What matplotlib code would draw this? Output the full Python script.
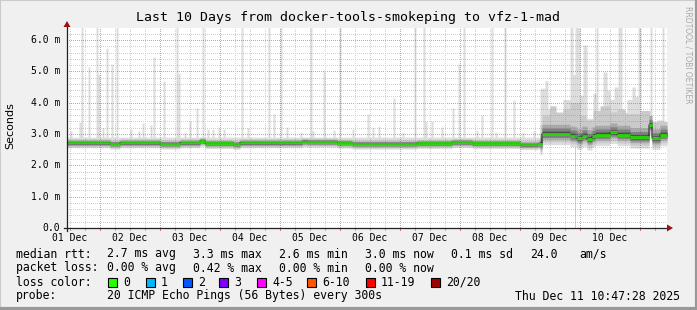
import numpy as np
import matplotlib.pyplot as plt
from matplotlib.patches import Rectangle, Polygon
from matplotlib.lines import Line2D

# smokeping graph: last 10 days, ends Thu Dec 11 10:47:28 2025
# x is hours after window start (Dec 01 10:47:28), one rrd step = 1440 s
span_h = 240
step_h = 0.4
first_noon_h = 1.2089      # Dec 01 12:00
first_midnight_h = 13.2089 # Dec 02 00:00
day_labels = ['01 Dec', '02 Dec', '03 Dec', '04 Dec', '05 Dec',
              '06 Dec', '07 Dec', '08 Dec', '09 Dec', '10 Dec']
y_top = 6.383
y_ticks = [0, 1, 2, 3, 4, 5, 6]
y_labels = ['0.0', '1.0 m', '2.0 m', '3.0 m', '4.0 m', '5.0 m', '6.0 m']

# median rtt [ms], held from each start hour
median_h = [0, 17.2, 21.2, 37.2, 45.2, 53.2, 55.2, 66.4, 69.2, 94, 96, 108, 114, 140, 154, 162,
            181.2, 188.4, 190, 201.2, 203.2, 204, 206, 208, 210, 211.2, 217.2, 220, 225.2,
            232.8, 234, 237.2]
median_ms = [2.73, 2.69, 2.73, 2.69, 2.73, 2.78, 2.71, 2.68, 2.73, 2.76, 2.75, 2.72, 2.69, 2.71, 2.74, 2.71,
             2.67, 2.69, 3.01, 2.95, 2.93, 2.86, 2.95, 2.84, 2.93, 2.98, 3.05, 2.98, 2.90,
             3.29, 2.86, 2.98]

# lost pings per step (all other steps 0)
loss_h = [203.2]
loss_n = [1]

# upper edge of the smoke (max ping), held from each start hour
max_h = [0, 189.2, 191.2, 192.4, 194.0, 196.0, 198.4, 201.2, 202.4, 203.2, 205.2, 206.4, 208.0,
         210.4, 211.6, 212.4, 214.4, 216.0, 217.2, 218.8, 220.4, 222.0, 224.0, 226.0, 227.2,
         228.4, 229.6, 232.0, 233.2, 234.0, 236.0, 238.0, 238.8]
max_ms = [2.9, 4.46, 4.7, 3.8, 3.7, 3.6, 4.1, 6.4, 4.9, 6.4, 4.24, 5.84, 3.5,
          4.3, 6.4, 3.7, 4.98, 4.4, 4.1, 4.5, 6.4, 3.7, 4.1, 4.5, 4.2,
          6.4, 3.7, 3.5, 6.4, 3.3, 3.45, 6.4, 3.3]

# single-step max ping spikes (hour, ms)
spike_h = [1.2, 4.8, 5.6, 8.4, 11.6, 12.4, 14.0, 15.6, 17.6, 19.6,
           25.2, 28.4, 30.0, 33.2, 34.4, 38.4, 43.6, 44.4, 46.8, 48.8,
           51.6, 54.0, 56.0, 58.0, 60.4, 62.4, 69.6, 72.0, 80.4, 82.4,
           85.2, 87.6, 93.2, 97.2, 98.0, 102.4, 106.4, 108.8, 114.0, 120.0,
           122.0, 124.4, 130.4, 134.0, 138.8, 142.4, 143.2, 145.6, 149.6, 154.0,
           156.4, 158.4, 163.6, 165.6, 169.6, 171.2, 174.8, 178.4, 182.0, 186.4]
spike_ms = [3.10, 3.38, 6.4, 5.14, 6.4, 4.90, 3.20, 5.74, 5.23, 6.4,
            3.15, 3.10, 3.35, 3.30, 5.46, 4.69, 6.4, 4.94, 3.05, 3.40,
            3.83, 6.4, 3.15, 3.15, 3.20, 3.15, 6.4, 3.20, 6.4, 3.64,
            6.4, 3.22, 3.05, 6.4, 3.10, 5.04, 3.12, 6.4, 3.15, 3.64,
            3.20, 3.25, 4.15, 3.05, 6.4, 6.4, 3.40, 3.40, 3.22, 3.83,
            5.23, 6.4, 3.10, 3.60, 6.4, 3.05, 6.4, 4.09, 3.05, 3.10]

# smoke layers around the median, before / after the jump on Dec 09
jump_h = 189.2
smoke_shades = ['#dddddd', '#cacaca', '#a8a8a8', '#808080', '#4a4a4a']
below_pre = [0.17, 0.13, 0.10, 0.07, 0.04]
above_pre = [None, 0.12, 0.08, 0.06, 0.04]
below_post = [0.35, 0.26, 0.18, 0.12, 0.06]
above_post = [None, None, 0.30, 0.18, 0.08]
p90_post_h = [189.2, 190, 193.2, 195.6, 198.4, 201.2, 205.2, 207.6, 210.4, 213.2, 217.2, 220,
              223.2, 229.2, 233.2]
p90_post_ms = [3.3, 3.6, 3.9, 3.7, 3.8, 4.0, 3.6, 3.45, 3.75, 3.9, 3.7, 3.8,
               3.65, 3.75, 3.4]

loss_colors = {0: '#26ff00', 1: '#00b8ff', 2: '#0059ff', 3: '#7e00ff',
               5: '#ff00ff', 10: '#ff5500', 19: '#ff0000', 20: '#a10000'}
loss_names = ['0', '1', '2', '3', '4-5', '6-10', '11-19', '20/20']
loss_box_x = [108, 146, 183, 219, 257, 307, 366, 431]

legend_rows = [
    ('median rtt:', ['2.7 ms avg', '3.3 ms max', '2.6 ms min', '3.0 ms now', '0.1 ms sd', '24.0', 'am/s']),
    ('packet loss:', ['0.00 % avg', '0.42 % max', '0.00 % min', '0.00 % now']),
]
legend_cols_x = [107, 193, 279, 365, 451, 530, 579]
probe_text = '20 ICMP Echo Pings (56 Bytes) every 300s'
stamp_text = 'Thu Dec 11 10:47:28 2025'
title = 'Last 10 Days from docker-tools-smokeping to vfz-1-mad'


def held(knots, vals, t):
    i = np.searchsorted(knots, t, side='right') - 1
    return np.asarray(vals, dtype=float)[np.clip(i, 0, len(vals) - 1)]


n = int(round(span_h / step_h))
t = np.arange(n) * step_h
edges = np.arange(n + 1) * step_h
med = held(median_h, median_ms, t + 1e-6)
hi = held(max_h, max_ms, t + 1e-6)
for h, v in zip(spike_h, spike_ms):
    i = int(round(h / step_h))
    hi[i:i + 2] = np.maximum(hi[i:i + 2], v)
loss = np.zeros(n, dtype=int)
for h, v in zip(loss_h, loss_n):
    loss[int(round(h / step_h))] = v
post = t >= jump_h - 1e-6
p90 = held(p90_post_h, p90_post_ms, t + 1e-6)


def ext(a):
    return np.append(a, a[-1])


W, H = 697, 310
X0, Y0 = 67, 228    # plot origin in image pixels
PW, PH = 600, 200   # plot area in pixels
mono = 'DejaVu Sans Mono'


def fx(x):
    return x / W


def fy(y):
    return 1 - y / H


fig = plt.figure(figsize=(W / 100, H / 100), dpi=100, facecolor='#f0f0f0')
rect = [fx(X0), fy(Y0), PW / W, PH / H]
ax = fig.add_axes(rect, zorder=0)            # canvas + smoke
ax2 = fig.add_axes(rect, zorder=2)           # median line, above the grid
ax.set_facecolor('white')
ax2.set_facecolor('none')
for a in (ax, ax2):
    a.set_xlim(0, span_h)
    a.set_ylim(0, y_top)
    for s in a.spines.values():
        s.set_visible(False)
    a.set_xticks([])
    a.set_yticks([])

# loss background
for i in np.nonzero(loss)[0]:
    col = [c for k, c in loss_colors.items() if loss[i] <= k][0]
    ax.axvspan(t[i], t[i] + step_h, ymax=med[i] / y_top, color=col, alpha=0.4, lw=0, zorder=0.5)

# smoke
for k, shade in enumerate(smoke_shades):
    lo = med - np.where(post, below_post[k], below_pre[k])
    if k == 0:
        up = hi
    elif k == 1:
        up = np.where(post, p90, med + above_pre[k])
    else:
        up = med + np.where(post, above_post[k], above_pre[k])
    ax.fill_between(edges, ext(lo), ext(up), step='post', color=shade, lw=0, zorder=1 + k * 0.01)

# grid: 1px dotted lines as a pixel exact overlay, rrdtool style
minor_y = [v for v in np.arange(0.2, y_top, 0.2) if abs(v - round(v)) > 0.05]
major_y = y_ticks[1:]
minor_x = np.arange(first_noon_h, span_h, 6.0)
major_x = np.arange(first_midnight_h, span_h, 24.0)
minor_x = [v for v in minor_x if np.min(np.abs(major_x - v)) > 0.5]
grid = np.zeros((PH, PW, 4))
minor_rgba = (0.5, 0.5, 0.5, 0.36)
major_rgba = (0.95, 0.15, 0.15, 0.5)
for vals, rgba in ((minor_y, minor_rgba), (major_y, major_rgba)):
    for v in vals:
        r = int(round((y_top - v) / y_top * PH))
        if 0 <= r < PH:
            grid[r, 0::2] = rgba
for vals, rgba in ((minor_x, minor_rgba), (major_x, major_rgba)):
    for v in vals:
        c = int(round(v / span_h * PW))
        if 0 <= c < PW:
            grid[1::2, c] = rgba
fig.figimage(grid, xo=X0, yo=H - Y0, origin='upper', zorder=1)

# median: dark step line, then loss coloured segments
ax2.step(edges, ext(med), where='post', color='#202020', lw=0.72, zorder=3)
seg_cols = [[c for k, c in loss_colors.items() if v <= k][0] for v in loss]
ax2.hlines(med, edges[:-1], edges[1:], colors=seg_cols, lw=2.2, zorder=3.1, capstyle='butt')

# tick labels
for i, lab in enumerate(day_labels):
    ax2.text(first_noon_h + 24 * i, -10 / 200, lab, transform=ax2.get_xaxis_transform(),
             ha='center', va='center', family=mono, size=7)
for v, lab in zip(y_ticks, y_labels):
    ax2.text(-7 / 600, v, lab, transform=ax2.get_yaxis_transform(),
             ha='right', va='center', family=mono, size=7)

# small axis ticks
tick_y = -2 / 200 * y_top
ax2.vlines(minor_x, tick_y, 0, colors='#b0b0b0', lw=0.72, clip_on=False, zorder=4, antialiased=False)
ax2.vlines(major_x, tick_y, 0, colors='#e07070', lw=0.72, clip_on=False, zorder=4, antialiased=False)

# axes and arrows
fig.add_artist(Line2D([fx(64), fx(668)], [fy(228), fy(228)], color='#202020', lw=0.9, zorder=5))
fig.add_artist(Line2D([fx(67), fx(67)], [fy(231), fy(24)], color='#202020', lw=0.9, zorder=5))
fig.add_artist(Polygon([(fx(667), fy(224.5)), (fx(673), fy(228)), (fx(667), fy(231.5))],
                       closed=True, color='#a01010', lw=0, zorder=5))
fig.add_artist(Polygon([(fx(63.5), fy(27)), (fx(67), fy(21)), (fx(70.5), fy(27))],
                       closed=True, color='#a01010', lw=0, zorder=5))

# texts
fig.text(fx(348.5), fy(18), title, ha='center', va='center', family=mono, size=9.5)
fig.text(fx(10), fy(126), 'Seconds', ha='center', va='center', rotation=90, size=8)
fig.text(fx(688), fy(6), 'RRDTOOL / TOBI OETIKER', ha='center', va='top', rotation=270,
         size=5.5, color='#a8a8a8')

leg_size = 8.3
for r, (name, vals) in enumerate(legend_rows):
    y = 254 + 14 * r
    fig.text(fx(16), fy(y), name, family=mono, size=leg_size, va='center')
    for x, s in zip(legend_cols_x, vals):
        fig.text(fx(x), fy(y), s, family=mono, size=leg_size, va='center')
fig.text(fx(16), fy(282), 'loss color:', family=mono, size=leg_size, va='center')
for x, lab, col in zip(loss_box_x, loss_names, loss_colors.values()):
    fig.add_artist(Rectangle((fx(x), fy(286.5)), 9 / W, 9 / H, facecolor=col,
                             edgecolor='black', lw=0.8, zorder=5))
    fig.text(fx(x + 15), fy(282), lab, family=mono, size=leg_size, va='center')
fig.text(fx(16), fy(296), 'probe:', family=mono, size=leg_size, va='center')
fig.text(fx(107), fy(296), probe_text, family=mono, size=leg_size, va='center')
fig.text(fx(680), fy(296), stamp_text, family=mono, size=leg_size, va='center', ha='right')

# 3d frame of the rrdtool image
fig.add_artist(Line2D([0, 0, 1], [0, 1, 1], color='#cbcbcb', lw=1.5, zorder=5))
fig.add_artist(Line2D([0, 1, 1], [0.004, 0.004, 1], color='#999999', lw=3, zorder=5))

fig.savefig('out.png', dpi=100, facecolor=fig.get_facecolor())
